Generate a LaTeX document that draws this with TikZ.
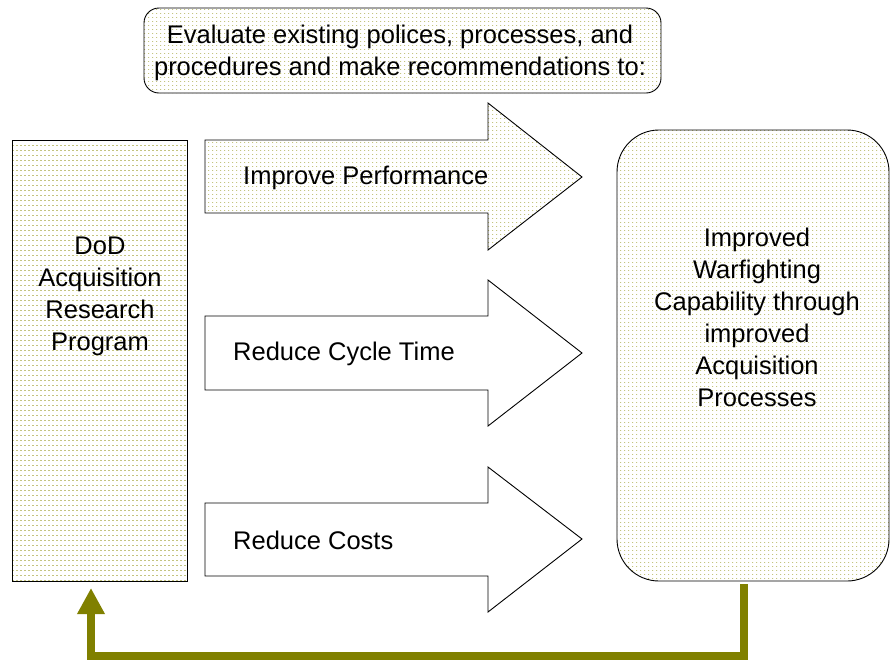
\documentclass[tikz,border=0pt]{standalone}
\usepackage{fontspec}
\setmainfont{Liberation Sans}
\usetikzlibrary{patterns.meta,arrows.meta}
\definecolor{dotcol}{RGB}{165,165,60}
\definecolor{olivearrow}{RGB}{128,128,0}
\tikzdeclarepattern{name=olivegrid, type=uncolored,
  bounding box={(0pt,0pt) and (4pt,4pt)}, tile size={(4pt,4pt)},
  code={\fill (0pt,0pt) rectangle (1.3pt,0.9pt);}}
\tikzdeclarepattern{name=olivedash, type=uncolored,
  bounding box={(0pt,0pt) and (4pt,4.5pt)}, tile size={(4pt,4.5pt)},
  code={\fill (0pt,0pt) rectangle (2.4pt,0.8pt);}}
\tikzset{
  gridfill/.style={pattern={olivegrid}, pattern color=dotcol},
  dashfill/.style={pattern={olivedash}, pattern color=dotcol},
  outline/.style={draw=black, line width=0.9pt, line join=miter},
  txt/.style={font=\fontsize{25.5}{32}\selectfont, align=center, inner sep=0pt},
  feedback/.style={draw=olivearrow, line width=8pt, line join=miter,
    -{Triangle[width=26pt,length=26pt]}},
}
\begin{document}
\begin{tikzpicture}[x=1pt,y=-1pt]
\useasboundingbox (0,0) rectangle (890,662);
% top box
\path[fill=white] (144,8) rectangle (661,93);
\path[outline, gridfill, rounded corners=15pt] (144,8) rectangle (661,93);
\node[txt] (top) at (400,53) {Evaluate existing polices, processes, and\\procedures and make recommendations to:};
% left box
\path[fill=white] (12,140) rectangle (187,581);
\path[outline, dashfill] (12,140) rectangle (187,581);
\node[txt] (dod) at (100,296) {DoD\\Acquisition\\Research\\Program};
% right box
\path[fill=white, rounded corners=42pt] (617,130) rectangle (889,581);
\path[outline, gridfill, rounded corners=42pt] (617,130) rectangle (889,581);
\node[txt] (out) at (757,317) {Improved\\Warfighting\\Capability through\\improved\\Acquisition\\Processes};
% arrow 1
\path[fill=white] (205,140) -- (488,140) -- (488,103) -- (582,177) -- (488,250) -- (488,213) -- (205,213) -- cycle;
\path[outline, gridfill] (205,140) -- (488,140) -- (488,103) -- (582,177) -- (488,250) -- (488,213) -- (205,213) -- cycle;
\node[txt, anchor=west] (a1) at (243,178) {Improve Performance};
% arrow 2
\path[outline, fill=white] (205,316) -- (488,316) -- (488,280) -- (582,353) -- (488,426) -- (488,390) -- (205,390) -- cycle;
\node[txt, anchor=west] (a2) at (233,354) {Reduce Cycle Time};
% arrow 3
\path[outline, fill=white] (205,503) -- (488,503) -- (488,467) -- (582,539) -- (488,612) -- (488,576) -- (205,576) -- cycle;
\node[txt, anchor=west] (a3) at (233,540) {Reduce Costs};
% feedback arrow
\coordinate (fbstart) at (743.5,584);
\coordinate (fbend) at (91,588);
\draw[feedback] (fbstart) -- (743.5,656) -- (91,656) -- (fbend);
\end{tikzpicture}
\end{document}
